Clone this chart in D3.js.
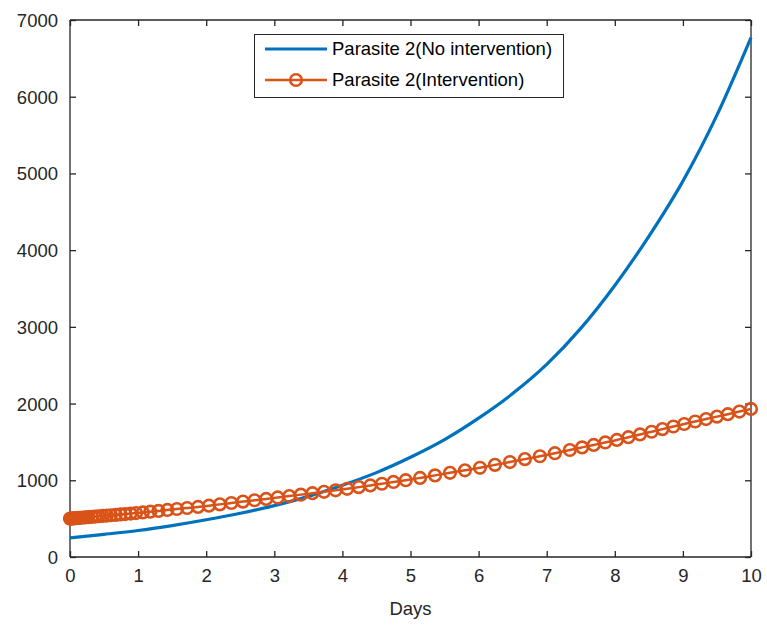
<!DOCTYPE html>
<html><head><meta charset="utf-8">
<script src="https://cdn.jsdelivr.net/npm/d3@7"></script>
<style>body{margin:0;background:#fff}svg{display:block}text{font-family:"Liberation Sans",Arial,sans-serif}</style>
</head><body><svg id="c" width="767" height="625"></svg>
<script>
const xTicks = [0,1,2,3,4,5,6,7,8,9,10];
const yTicks = [0,1000,2000,3000,4000,5000,6000,7000];
const seriesNames = ["Parasite 2(No intervention)", "Parasite 2(Intervention)"];
const noIntDays = [0,0.5,1,1.5,2,2.5,3,3.5,4,4.5,5,5.5,6,6.5,7,7.5,8,8.5,9,9.5,10];
const noIntValues = [250,295,345,410,485,570,670,790,935,1100,1300,1530,1810,2130,2510,2980,3540,4180,4900,5760,6770];
const intDays = [0,0.02,0.04,0.06,0.09,0.12,0.15,0.19,0.23,0.27,0.32,0.37,0.42,0.48,0.54,0.6,0.67,0.74,0.81,0.89,0.97,
 1.07,1.18,1.3,1.43,1.57,1.72,1.88,2.04,2.2,2.37,2.54,2.71,2.88,3.05,3.22,3.39,3.56,3.73,3.9,4.07,4.24,4.41,4.58,4.75,4.93,
 5.14,5.36,5.58,5.8,6.02,6.24,6.46,6.68,6.9,7.12,7.34,7.52,7.69,7.86,8.03,8.2,8.37,8.54,8.7,8.86,9.02,9.18,9.34,9.5,9.66,9.83,10];
const intValues = [500,501,503,504,507,509,511,514,517,520,524,527,531,535,540,544,549,555,560,566,573,
 581,591,601,613,626,639,653,669,686,704,722,740,757,776,794,813,832,850,869,889,911,933,955,978,1001,
 1031,1064,1097,1130,1163,1201,1238,1276,1313,1353,1395,1429,1461,1493,1526,1562,1598,1633,1667,1701,1734,1766,1798,1830,1862,1896,1930];

const L=70,R=751,T=20,B=557;
const svg=d3.select("#c");
const x=d3.scaleLinear().domain([0,10]).range([L,R]);
const y=d3.scaleLinear().domain([0,7000]).range([B,T]);
const axisCol="#262626";
const blue="#0072BD", orange="#D95319";

// axes
const gx=svg.append("g").attr("transform",`translate(0,${B})`).call(d3.axisBottom(x).tickValues(xTicks).tickSize(-6).tickPadding(12).tickFormat(d3.format("d")));
const gxt=svg.append("g").attr("transform",`translate(0,${T})`).call(d3.axisTop(x).tickValues(xTicks).tickSize(-6).tickFormat(""));
const gy=svg.append("g").attr("transform",`translate(${L},0)`).call(d3.axisLeft(y).tickValues(yTicks).tickSize(-6).tickPadding(12).tickFormat(d3.format("d")));
const gyr=svg.append("g").attr("transform",`translate(${R},0)`).call(d3.axisRight(y).tickValues(yTicks).tickSize(-6).tickFormat(""));
[gx,gxt,gy,gyr].forEach(g=>{
  g.selectAll("path").attr("stroke",axisCol).attr("stroke-width",1.3);
  g.selectAll("line").attr("stroke",axisCol).attr("stroke-width",1.3);
  g.selectAll("text").attr("fill","#262626").style("font-size","18.5px");
});
gx.selectAll("path").attr("d",`M${L},0H${R}`);
gxt.selectAll("path").attr("d",`M${L},0H${R}`);
gy.selectAll("path").attr("d",`M0,${T}V${B}`);
gyr.selectAll("path").attr("d",`M0,${T}V${B}`);
gy.selectAll("text").attr("dy","0.35em");

svg.append("text").attr("x",(L+R)/2).attr("y",615).attr("text-anchor","middle").attr("fill","#262626").style("font-size","18.5px").text("Days");

// series
const blueLine=d3.line().x((d,i)=>x(noIntDays[i])).y(d=>y(d)).curve(d3.curveMonotoneX);
svg.append("path").attr("d",blueLine(noIntValues)).attr("fill","none").attr("stroke",blue).attr("stroke-width",3.2);
const oLine=d3.line().x((d,i)=>x(intDays[i])).y(d=>y(d)).curve(d3.curveMonotoneX);
svg.append("path").attr("d",oLine(intValues)).attr("fill","none").attr("stroke",orange).attr("stroke-width",2.5);
svg.append("g").selectAll("circle").data(intValues).join("circle")
  .attr("cx",(d,i)=>x(intDays[i])).attr("cy",d=>y(d)).attr("r",5.8)
  .attr("fill","none").attr("stroke",orange).attr("stroke-width",2.6);

// legend
const lg=svg.append("g");
lg.append("rect").attr("x",254.5).attr("y",34.5).attr("width",309).attr("height",63).attr("fill","#fff").attr("stroke",axisCol).attr("stroke-width",1);
const rows=[49,80];
lg.append("line").attr("x1",265).attr("x2",327).attr("y1",rows[0]).attr("y2",rows[0]).attr("stroke",blue).attr("stroke-width",3.2);
lg.append("line").attr("x1",265).attr("x2",327).attr("y1",rows[1]).attr("y2",rows[1]).attr("stroke",orange).attr("stroke-width",2.5);
lg.append("circle").attr("cx",296).attr("cy",rows[1]).attr("r",5.8).attr("fill","none").attr("stroke",orange).attr("stroke-width",2.6);
seriesNames.forEach((n,i)=>{
  lg.append("text").attr("x",332).attr("y",rows[i]).attr("dy","0.35em").attr("fill","#000").style("font-size","18.5px").text(n);
});
</script></body></html>
